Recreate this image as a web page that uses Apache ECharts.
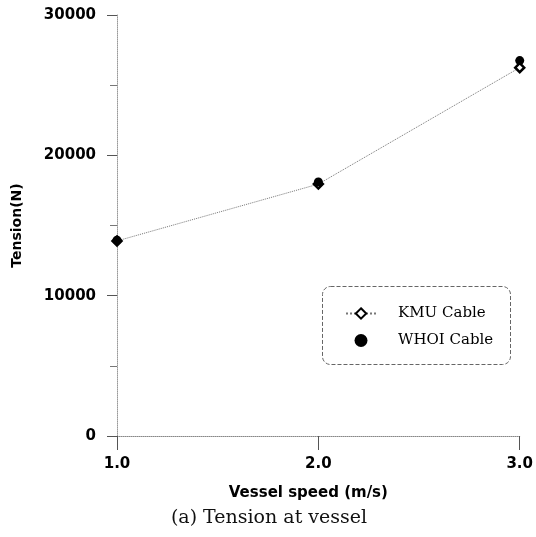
<!DOCTYPE html>
<html><head><meta charset="utf-8">
<script src="https://cdn.jsdelivr.net/npm/echarts@6/dist/echarts.min.js"></script>
<style>html,body{margin:0;padding:0;background:#fff}#c{width:536px;height:537px}</style>
</head><body><div id="c"></div>
<script>
const speeds = [1.0, 2.0, 3.0];
const kmuTension = [13900, 17950, 26250];
const whoiTension = [13950, 18100, 26750];
const yTicks = [0, 10000, 20000, 30000];

const chart = echarts.init(document.getElementById('c'));
const axisFont = {fontFamily: 'DejaVu Sans, Liberation Sans, sans-serif', fontWeight: 'bold', color: '#000'};
chart.setOption({
  animation: false,
  backgroundColor: '#fff',
  grid: {left: 117, right: 15, top: 15, bottom: 101},
  title: {
    text: '(a) Tension at vessel', left: 264, textAlign: 'center', top: 504,
    textStyle: {fontFamily: 'DejaVu Serif, Liberation Serif, serif', fontWeight: 'normal', fontSize: 19, color: '#111'}
  },
  xAxis: {
    type: 'value', min: 1, max: 3, interval: 1,
    name: 'Vessel speed (m/s)', nameLocation: 'middle', nameGap: 50,
    nameTextStyle: Object.assign({fontSize: 15, padding: [0, 20, 0, 0]}, axisFont),
    axisLine: {lineStyle: {color: '#888', type: 'dotted', width: 1}},
    axisTick: {show: true, inside: false, length: 14, lineStyle: {color: '#555'}},
    axisLabel: Object.assign({fontSize: 15, margin: 21, formatter: v => v.toFixed(1)}, axisFont),
    splitLine: {show: false}
  },
  yAxis: {
    type: 'value', min: 0, max: 30000, interval: 10000,
    name: 'Tension(N)', nameLocation: 'middle', nameGap: 93, nameRotate: 90,
    nameTextStyle: Object.assign({fontSize: 14}, axisFont),
    axisLine: {show: true, lineStyle: {color: '#999', type: 'dotted', width: 1}},
    axisTick: {show: true, length: 10, lineStyle: {color: '#555'}},
    minorTick: {show: true, splitNumber: 2, length: 7, lineStyle: {color: '#777'}},
    axisLabel: Object.assign({fontSize: 15, margin: 21, formatter: v => String(v)}, axisFont),
    splitLine: {show: false}
  },
  legend: {
    orient: 'vertical', left: 340, top: 301, itemGap: 12,
    itemWidth: 30, itemHeight: 13,
    textStyle: {fontFamily: 'DejaVu Serif, Liberation Serif, serif', fontSize: 15, color: '#000', padding: [0, 0, 0, 17]},
    data: ['KMU Cable', 'WHOI Cable']
  },
  graphic: [{
    type: 'rect', left: 322, top: 286, z: -1,
    shape: {width: 188, height: 78, r: 8},
    style: {fill: '#fff', stroke: '#666', lineWidth: 1, lineDash: [4, 2]}
  }],
  series: [
    {
      name: 'KMU Cable', type: 'line', z: 2,
      data: speeds.map((s, i) => [s, kmuTension[i]]),
      symbol: 'diamond', symbolSize: 9,
      lineStyle: {color: '#777', width: 1, type: 'dotted'},
      itemStyle: {color: '#fff', borderColor: '#000', borderWidth: 2.5}
    },
    {
      name: 'WHOI Cable', type: 'scatter', z: 3,
      data: speeds.map((s, i) => [s, whoiTension[i]]),
      symbol: 'circle', symbolSize: 9,
      itemStyle: {color: '#000', opacity: 1}
    }
  ]
});
</script></body></html>
